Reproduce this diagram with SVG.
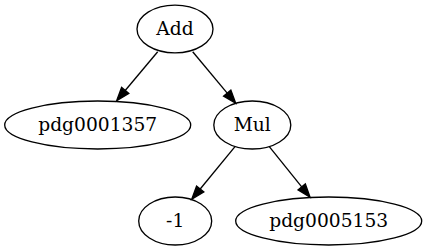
<svg xmlns="http://www.w3.org/2000/svg" width="427" height="251" viewBox="0 0 427 251">
<defs>
<style>
.node ellipse{fill:none;stroke:#000;stroke-width:1.33}
.node text{font-family:"DejaVu Serif",serif;font-size:18.67px;text-anchor:middle;fill:#000}
.edge line{stroke:#000;stroke-width:1.33}
</style>
<marker id="arr" markerUnits="userSpaceOnUse" markerWidth="14" markerHeight="10" viewBox="0 -5 14 10" refX="0" refY="0" orient="auto" overflow="visible">
<path d="M0,-4.7 L13.3,0 L0,4.7 z" fill="#000" stroke="#000" stroke-width="1.33"/>
</marker>
</defs>
<rect width="427" height="251" fill="#fff"/>
<g id="edges" class="edge">
<line x1="157.7" y1="51.7" x2="125.2" y2="90.5" marker-end="url(#arr)"/>
<line x1="192.7" y1="51.7" x2="227.2" y2="93.1" marker-end="url(#arr)"/>
<line x1="235" y1="146.7" x2="200.2" y2="189" marker-end="url(#arr)"/>
<line x1="269.3" y1="146.7" x2="301.7" y2="186.9" marker-end="url(#arr)"/>
</g>
<g id="node-add" class="node"><ellipse cx="175" cy="29" rx="38" ry="23.8"/><text x="175" y="35">Add</text></g>
<g id="node-pdg0001357" class="node"><ellipse cx="97.7" cy="125" rx="93" ry="24"/><text x="97.7" y="131">pdg0001357</text></g>
<g id="node-mul" class="node"><ellipse cx="252.3" cy="125" rx="38.5" ry="24"/><text x="252.3" y="131">Mul</text></g>
<g id="node-neg1" class="node"><ellipse cx="175.2" cy="221" rx="36.5" ry="24"/><text x="175.2" y="227">-1</text></g>
<g id="node-pdg0005153" class="node"><ellipse cx="328.7" cy="221" rx="93" ry="24"/><text x="328.7" y="227">pdg0005153</text></g>
</svg>
